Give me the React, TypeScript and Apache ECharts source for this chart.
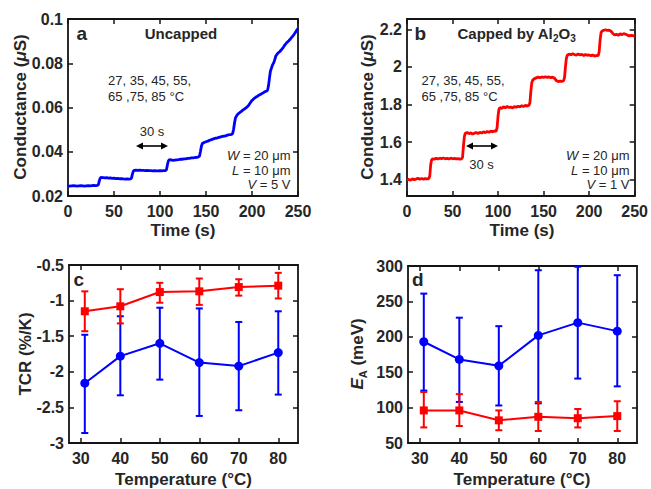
import React, { useEffect, useRef } from 'react';
import * as echarts from 'echarts';

const FONT = "'Liberation Sans', Arial, Helvetica, sans-serif";
const INK = '#262626';
const AXIS = '#141414';
const BLUE = '#0000ff';
const RED = '#ff0000';

// Conductance vs time while stepping 27 -> 85 °C, uncapped device (µS)
const uncappedTrace: [number, number][] = [
  [0, 0.0246], [2, 0.0245], [4, 0.0246], [6, 0.0247], [8, 0.0246], [10, 0.0245], [12, 0.0246], [14, 0.0247],
  [16, 0.0246], [18, 0.0245], [20, 0.0246], [22, 0.0247], [24, 0.0246], [26, 0.0247], [28, 0.0248], [30, 0.0247],
  [32, 0.0248], [33, 0.0251], [34, 0.0268], [35, 0.0281], [36, 0.0284], [38, 0.0283], [40, 0.0282], [42, 0.0283],
  [44, 0.0281], [46, 0.0282], [48, 0.028], [50, 0.0281], [52, 0.0279], [54, 0.028], [56, 0.0278], [58, 0.0279],
  [60, 0.0277], [62, 0.0276], [64, 0.0277], [66, 0.0276], [68, 0.0277], [69, 0.0281], [70, 0.0299], [71, 0.0312],
  [72, 0.0316], [74, 0.0317], [76, 0.0316], [78, 0.0317], [80, 0.0316], [82, 0.0316], [84, 0.0315], [86, 0.0316],
  [88, 0.0315], [90, 0.0315], [92, 0.0314], [94, 0.0315], [96, 0.0314], [98, 0.0314], [100, 0.0315], [102, 0.0314],
  [104, 0.0315], [106, 0.0315], [107, 0.0319], [108, 0.034], [109, 0.0357], [110, 0.0364], [112, 0.0363], [114, 0.0361],
  [116, 0.0362], [118, 0.0363], [120, 0.0364], [122, 0.0366], [124, 0.0366], [126, 0.0368], [128, 0.0368], [130, 0.037],
  [132, 0.037], [134, 0.0372], [136, 0.0372], [138, 0.0374], [140, 0.0375], [142, 0.0377], [143, 0.0381], [144, 0.0402],
  [145, 0.0425], [146, 0.0437], [148, 0.0442], [150, 0.0445], [152, 0.0448], [154, 0.0452], [156, 0.0455], [158, 0.0458],
  [160, 0.0461], [162, 0.0462], [164, 0.0465], [166, 0.0467], [168, 0.0469], [170, 0.0471], [172, 0.0473], [174, 0.0476],
  [176, 0.0477], [178, 0.0479], [179, 0.0483], [180, 0.0502], [181, 0.053], [182, 0.0553], [184, 0.0567], [186, 0.0575],
  [188, 0.0581], [190, 0.0588], [192, 0.0594], [194, 0.06], [196, 0.0608], [198, 0.062], [200, 0.0632], [202, 0.064],
  [204, 0.0646], [206, 0.0651], [208, 0.0657], [210, 0.0661], [212, 0.0666], [214, 0.0671], [216, 0.0675], [217, 0.0679],
  [218, 0.07], [219, 0.0734], [220, 0.0764], [222, 0.0789], [224, 0.0806], [226, 0.0834], [228, 0.0845], [230, 0.0852],
  [232, 0.0861], [234, 0.0872], [236, 0.0884], [238, 0.0894], [240, 0.0902], [242, 0.0911], [244, 0.0921], [246, 0.0932],
  [248, 0.0945], [250, 0.0957],
];

// Same temperature sequence, device capped by Al2O3 (µS)
const cappedTrace: [number, number][] = [
  [0, 1.4], [2, 1.402], [4, 1.398], [6, 1.405], [8, 1.401], [10, 1.404], [12, 1.408], [14, 1.403],
  [16, 1.407], [18, 1.404], [20, 1.406], [22, 1.405], [24, 1.407], [25, 1.42], [26, 1.48], [27, 1.505],
  [28, 1.512], [30, 1.51], [32, 1.514], [34, 1.511], [36, 1.515], [38, 1.513], [40, 1.516], [42, 1.512],
  [44, 1.514], [46, 1.511], [48, 1.515], [50, 1.512], [52, 1.514], [54, 1.511], [56, 1.513], [58, 1.51],
  [60, 1.512], [61, 1.52], [62, 1.58], [63, 1.63], [64, 1.648], [66, 1.652], [68, 1.645], [70, 1.65],
  [72, 1.643], [74, 1.648], [76, 1.651], [78, 1.646], [80, 1.652], [82, 1.649], [84, 1.655], [86, 1.651],
  [88, 1.657], [90, 1.653], [92, 1.659], [94, 1.655], [96, 1.66], [98, 1.658], [99, 1.68], [100, 1.74],
  [101, 1.775], [102, 1.784], [104, 1.78], [106, 1.788], [108, 1.783], [110, 1.79], [112, 1.785], [114, 1.787],
  [116, 1.782], [118, 1.789], [120, 1.786], [122, 1.791], [124, 1.788], [126, 1.794], [128, 1.79], [130, 1.796],
  [132, 1.792], [134, 1.797], [135, 1.81], [136, 1.87], [137, 1.915], [138, 1.93], [140, 1.938], [142, 1.942],
  [144, 1.946], [146, 1.943], [148, 1.947], [150, 1.944], [152, 1.948], [154, 1.945], [156, 1.947], [158, 1.943],
  [160, 1.946], [162, 1.94], [164, 1.928], [166, 1.922], [168, 1.925], [170, 1.923], [172, 1.927], [173, 1.945],
  [174, 2.0], [175, 2.045], [176, 2.062], [178, 2.068], [180, 2.065], [182, 2.07], [184, 2.066], [186, 2.063],
  [188, 2.069], [190, 2.064], [192, 2.067], [194, 2.061], [196, 2.066], [198, 2.062], [200, 2.064], [202, 2.06],
  [204, 2.063], [206, 2.058], [208, 2.061], [210, 2.06], [211, 2.08], [212, 2.14], [213, 2.18], [214, 2.19],
  [216, 2.195], [218, 2.198], [220, 2.194], [222, 2.196], [224, 2.19], [226, 2.178], [228, 2.17], [230, 2.174],
  [232, 2.168], [234, 2.176], [236, 2.172], [238, 2.177], [240, 2.174], [242, 2.17], [244, 2.165], [246, 2.168],
  [248, 2.166], [250, 2.164],
];

// Mid-point temperatures of each heating step (°C)
const temps = [31, 40, 50, 60, 70, 80];

// Temperature coefficient of resistance (%/K) with error bar limits
const tcrUncapped = [-2.16, -1.78, -1.6, -1.87, -1.92, -1.73];
const tcrUncappedLow = [-2.86, -2.33, -2.11, -2.62, -2.54, -2.32];
const tcrUncappedHigh = [-1.48, -1.22, -1.1, -1.11, -1.3, -1.15];
const tcrCapped = [-1.15, -1.08, -0.88, -0.87, -0.81, -0.79];
const tcrCappedLow = [-1.43, -1.32, -1.03, -1.06, -0.93, -0.97];
const tcrCappedHigh = [-0.87, -0.84, -0.75, -0.69, -0.7, -0.61];

// Activation energy (meV) with error bar limits
const eaUncapped = [193, 168, 159, 202, 220, 208];
const eaUncappedLow = [124, 108, 103, 106, 141, 130];
const eaUncappedHigh = [261, 227, 215, 294, 299, 287];
const eaCapped = [96, 96, 82, 87, 85, 88];
const eaCappedLow = [72, 74, 68, 67, 72, 67];
const eaCappedHigh = [122, 119, 96, 108, 98, 109];

// Tick values
const timeTicks = [0, 50, 100, 150, 200, 250];
const uncappedTicks = [0.02, 0.04, 0.06, 0.08, 0.1];
const cappedTicks = [1.4, 1.6, 1.8, 2, 2.2];
const tempTicks = [30, 40, 50, 60, 70, 80];
const tcrTicks = [-3, -2.5, -2, -1.5, -1, -0.5];
const eaTicks = [50, 100, 150, 200, 250, 300];

const grids = [
  { left: 68, top: 19, width: 230, height: 177 },
  { left: 407, top: 19, width: 230, height: 177 },
  { left: 69, top: 265, width: 229, height: 178 },
  { left: 408, top: 266, width: 229, height: 177 },
];

function axisPair(kind: 'x' | 'y', gridIndex: number, min: number, max: number, ticks: number[]) {
  const common: any = {
    type: 'value',
    gridIndex,
    min,
    max,
    splitLine: { show: false },
    axisLine: { show: true, onZero: false, lineStyle: { color: AXIS, width: 1.8 } },
    axisTick: { show: true, inside: true, length: 5, customValues: ticks, lineStyle: { color: AXIS, width: 1.5 } },
  };
  const main = {
    ...common,
    position: kind === 'x' ? 'bottom' : 'left',
    axisLabel: {
      show: true,
      customValues: ticks,
      margin: kind === 'x' ? 7 : 5,
      color: INK,
      fontFamily: FONT,
      fontSize: 16,
      fontWeight: 'bold',
      formatter: (v: number) => String(v),
    },
  };
  const mirror = { ...common, position: kind === 'x' ? 'top' : 'right', axisLabel: { show: false } };
  return [main, mirror];
}

function lineSeries(axis: number, data: any[], color: string, symbol: string, size: number, width: number) {
  return {
    type: 'line',
    xAxisIndex: axis,
    yAxisIndex: axis,
    data,
    symbol,
    symbolSize: size,
    showSymbol: symbol !== 'none',
    lineStyle: { color, width },
    itemStyle: { color },
    z: 3,
  };
}

function errorSeries(axis: number, lo: number[], hi: number[], color: string) {
  return {
    type: 'custom',
    xAxisIndex: axis,
    yAxisIndex: axis,
    data: temps.map((t, i) => [t, lo[i], hi[i]]),
    encode: { x: 0, y: [1, 2] },
    z: 2,
    renderItem: (_params: any, api: any) => {
      const x = api.value(0);
      const top = api.coord([x, api.value(2)]);
      const bot = api.coord([x, api.value(1)]);
      const hw = 3.5;
      const style = { stroke: color, lineWidth: 2 };
      return {
        type: 'group',
        children: [
          { type: 'line', shape: { x1: top[0], y1: top[1], x2: bot[0], y2: bot[1] }, style },
          { type: 'line', shape: { x1: top[0] - hw, y1: top[1], x2: top[0] + hw, y2: top[1] }, style },
          { type: 'line', shape: { x1: bot[0] - hw, y1: bot[1], x2: bot[0] + hw, y2: bot[1] }, style },
        ],
      };
    },
  };
}

function text(x: number, y: number, str: string, size: number, weight: string, align: string, rich?: any, rotation = 0) {
  return {
    type: 'text',
    x,
    y,
    rotation,
    silent: true,
    style: {
      text: str,
      fill: INK,
      fontFamily: FONT,
      fontSize: size,
      fontWeight: weight,
      align,
      verticalAlign: 'middle',
      rich,
    },
  };
}

function arrow(x1: number, x2: number, y: number) {
  const head = 7;
  const half = 3.5;
  return [
    { type: 'line', silent: true, shape: { x1: x1 + 4, y1: y, x2: x2 - 4, y2: y }, style: { stroke: '#000', lineWidth: 1.6 } },
    { type: 'polygon', silent: true, shape: { points: [[x1, y], [x1 + head, y - half], [x1 + head, y + half]] }, style: { fill: '#000' } },
    { type: 'polygon', silent: true, shape: { points: [[x2, y], [x2 - head, y - half], [x2 - head, y + half]] }, style: { fill: '#000' } },
  ];
}

const tok = (size: number, extra: any = {}) => ({ fontSize: size, fontFamily: FONT, fill: INK, ...extra });

const conductanceRich = {
  b: tok(17, { fontWeight: 'bold' }),
  i: tok(17, { fontWeight: 'bold', fontStyle: 'italic' }),
};
const wlvRich = {
  i: tok(13, { fontStyle: 'italic' }),
  r: tok(13),
};
const al2o3Rich = {
  m: tok(15, { fontWeight: 'bold', lineHeight: 20, verticalAlign: 'middle' }),
  s: tok(10, { fontWeight: 'bold', lineHeight: 10, verticalAlign: 'bottom' }),
};
const eaRich = {
  e: tok(17, { fontWeight: 'bold', fontStyle: 'italic', lineHeight: 22, verticalAlign: 'middle' }),
  s: tok(11, { fontWeight: 'bold', lineHeight: 11, verticalAlign: 'bottom' }),
  m: tok(17, { fontWeight: 'bold', lineHeight: 22, verticalAlign: 'middle' }),
};

function buildOption() {
  const xAxes = [
    ...axisPair('x', 0, 0, 250, timeTicks),
    ...axisPair('x', 1, 0, 250, timeTicks),
    ...axisPair('x', 2, 27, 85, tempTicks),
    ...axisPair('x', 3, 27, 85, tempTicks),
  ];
  const yAxes = [
    ...axisPair('y', 0, 0.02, 0.1, uncappedTicks),
    ...axisPair('y', 1, 1.314, 2.255, cappedTicks),
    ...axisPair('y', 2, -3, -0.5, tcrTicks),
    ...axisPair('y', 3, 50, 300, eaTicks),
  ];
  // series use the primary (bottom/left) axes: indices 0, 2, 4, 6
  const series: any[] = [
    lineSeries(0, uncappedTrace, BLUE, 'none', 0, 2.8),
    lineSeries(2, cappedTrace, RED, 'none', 0, 2.8),
    errorSeries(4, tcrUncappedLow, tcrUncappedHigh, BLUE),
    lineSeries(4, temps.map((t, i) => [t, tcrUncapped[i]]), BLUE, 'circle', 9, 2),
    errorSeries(4, tcrCappedLow, tcrCappedHigh, RED),
    lineSeries(4, temps.map((t, i) => [t, tcrCapped[i]]), RED, 'rect', 8, 2),
    errorSeries(6, eaUncappedLow, eaUncappedHigh, BLUE),
    lineSeries(6, temps.map((t, i) => [t, eaUncapped[i]]), BLUE, 'circle', 9, 2),
    errorSeries(6, eaCappedLow, eaCappedHigh, RED),
    lineSeries(6, temps.map((t, i) => [t, eaCapped[i]]), RED, 'rect', 8, 2),
  ];

  const graphic: any[] = [
    // axis titles
    text(20, 107, '{b|Conductance (}{i|μ}{b|S)}', 17, 'bold', 'center', conductanceRich, Math.PI / 2),
    text(367, 107, '{b|Conductance (}{i|μ}{b|S)}', 17, 'bold', 'center', conductanceRich, Math.PI / 2),
    text(183, 230, 'Time (s)', 17, 'bold', 'center'),
    text(522, 230, 'Time (s)', 17, 'bold', 'center'),
    text(25, 354, 'TCR (%/K)', 17, 'bold', 'center', undefined, Math.PI / 2),
    text(357, 354, '{e|E}{s|A}{m| (meV)}', 17, 'bold', 'center', eaRich, Math.PI / 2),
    text(183.5, 479, 'Temperature (°C)', 17, 'bold', 'center'),
    text(522, 479, 'Temperature (°C)', 17, 'bold', 'center'),

    // panel a annotations
    text(76.5, 33, 'a', 19, 'bold', 'left'),
    text(181, 33.5, 'Uncapped', 15, 'bold', 'center'),
    text(108, 80.5, '27, 35, 45, 55,', 13, 'normal', 'left'),
    text(108, 96.5, '65 ,75, 85 °C', 13, 'normal', 'left'),
    text(152, 131.5, '30 s', 13, 'normal', 'center'),
    ...arrow(136, 168, 146),
    text(290.5, 155, '{i|W}{r| = 20 μm}', 13, 'normal', 'right', wlvRich),
    text(290.5, 170.5, '{i|L}{r| = 10 μm}', 13, 'normal', 'right', wlvRich),
    text(290.5, 184.5, '{i|V}{r| = 5 V}', 13, 'normal', 'right', wlvRich),

    // panel b annotations
    text(414.5, 33, 'b', 19, 'bold', 'left'),
    text(516.5, 33.5, '{m|Capped by Al}{s|2}{m|O}{s|3}', 15, 'bold', 'center', al2o3Rich),
    text(421.5, 80.5, '27, 35, 45, 55,', 13, 'normal', 'left'),
    text(421.5, 96.5, '65 ,75, 85 °C', 13, 'normal', 'left'),
    ...arrow(466, 498, 146),
    text(481.5, 164, '30 s', 13, 'normal', 'center'),
    text(629.5, 155, '{i|W}{r| = 20 μm}', 13, 'normal', 'right', wlvRich),
    text(629.5, 170.5, '{i|L}{r| = 10 μm}', 13, 'normal', 'right', wlvRich),
    text(629.5, 184.5, '{i|V}{r| = 1 V}', 13, 'normal', 'right', wlvRich),

    // panel c, d letters
    text(73.5, 279, 'c', 19, 'bold', 'left'),
    text(412, 279, 'd', 19, 'bold', 'left'),
  ];

  return {
    animation: false,
    backgroundColor: '#ffffff',
    grid: grids.map((g) => ({ ...g, containLabel: false })),
    xAxis: xAxes,
    yAxis: yAxes,
    series,
    graphic,
  };
}

export default function App() {
  const ref = useRef<HTMLDivElement>(null);
  useEffect(() => {
    document.body.style.margin = '0';
    if (!ref.current) return;
    const chart = echarts.init(ref.current, null, { renderer: 'svg' });
    chart.setOption(buildOption() as any);
    return () => chart.dispose();
  }, []);
  return <div ref={ref} style={{ width: 651, height: 489, background: '#fff' }} />;
}
